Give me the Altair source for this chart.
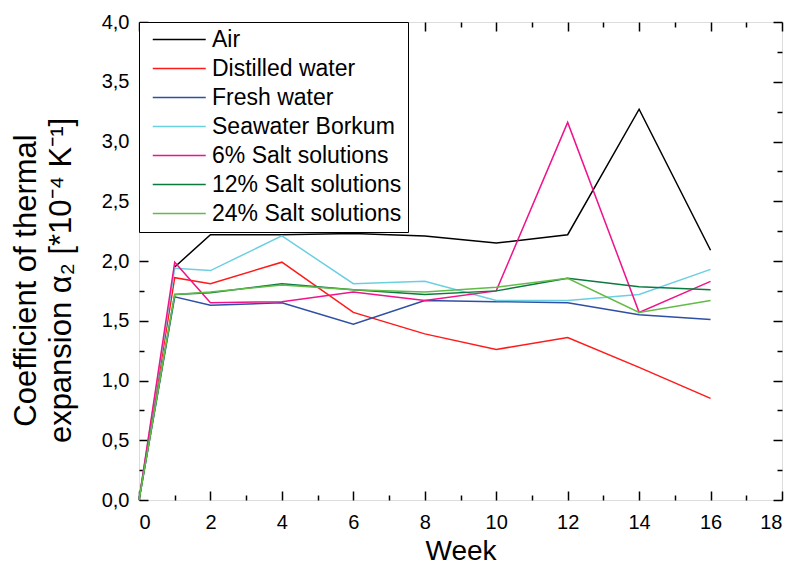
import altair as alt
import pandas as pd

# Measurement weeks
weeks = [0, 1, 2, 4, 6, 8, 10, 12, 14, 16]

# Coefficient of thermal expansion alpha_2 [*10^-4 K^-1] per storage medium
air = [None, 1.95, 2.22, 2.22, 2.23, 2.21, 2.15, 2.22, 3.27, 2.09]
distilled_water = [0.0, 1.86, 1.81, 1.99, 1.57, 1.39, 1.26, 1.36, 1.11, 0.85]
fresh_water = [0.0, 1.70, 1.63, 1.65, 1.47, 1.67, 1.66, 1.65, 1.55, 1.51]
seawater_borkum = [0.0, 1.94, 1.92, 2.21, 1.81, 1.83, 1.67, 1.67, 1.72, 1.93]
salt_6 = [0.0, 1.99, 1.65, 1.66, 1.74, 1.67, 1.75, 3.16, 1.57, 1.83]
salt_12 = [0.0, 1.72, 1.735, 1.81, 1.76, 1.72, 1.75, 1.855, 1.785, 1.76]
salt_24 = [0.0, 1.72, 1.74, 1.80, 1.76, 1.74, 1.78, 1.855, 1.57, 1.67]

series_names = [
    "Air",
    "Distilled water",
    "Fresh water",
    "Seawater Borkum",
    "6% Salt solutions",
    "12% Salt solutions",
    "24% Salt solutions",
]
series_values = [air, distilled_water, fresh_water, seawater_borkum, salt_6, salt_12, salt_24]
series_colors = ["#000000", "#ff1a1a", "#2f4fa5", "#6ccfe0", "#f0138a", "#0b7a3e", "#62bb47"]

rows = []
for name, vals in zip(series_names, series_values):
    for w, v in zip(weeks, vals):
        if v is not None:
            rows.append({"Week": w, "Value": v, "Series": name})
df = pd.DataFrame(rows)

FONT = "Liberation Sans"
x_scale = alt.Scale(domain=[0, 18], nice=False, zero=False)
y_scale = alt.Scale(domain=[0, 4], nice=False, zero=False)

major_x = list(range(0, 19, 2))
minor_x = list(range(1, 18, 2))
major_y = [i * 0.5 for i in range(9)]
minor_y = [0.25 + i * 0.5 for i in range(8)]

# long horizontal legend swatch drawn with a compact symbol size
LEGEND_SWATCH = "M-0.375,0H4.925"


def tick_axis(orient, values, size):
    # tick-only axis pulled inward so the ticks point into the plot
    return alt.Axis(
        orient=orient, values=values, labels=False, domain=False, grid=False,
        ticks=True, tickSize=size, offset=-size, tickColor="black",
        tickWidth=1.5, title=None,
    )


lines = alt.Chart(df).mark_line(strokeWidth=1.5).encode(
    x=alt.X(
        "Week:Q", scale=x_scale,
        axis=alt.Axis(
            orient="bottom", values=major_x, format="d", ticks=False,
            domain=False, grid=False, labelFont=FONT, labelFontSize=20,
            labelColor="black", labelPadding=12, title="Week",
            titleFont=FONT, titleFontSize=28, titleFontWeight="normal",
            titleColor="black", titlePadding=5,
        ),
    ),
    y=alt.Y(
        "Value:Q", scale=y_scale,
        axis=alt.Axis(
            orient="left", values=major_y, format=".1f",
            labelExpr="replace(datum.label, '.', ',')", ticks=False,
            domain=False, grid=False, labelFont=FONT, labelFontSize=20,
            labelColor="black", labelPadding=10,
            title=["Coefficient of thermal", "expansion α₂ [*10⁻⁴ K⁻¹]"],
            titleFont=FONT, titleFontSize=31, titleFontWeight="normal",
            titleColor="black", titlePadding=24, titleLineHeight=35,
            titleY=258,
        ),
    ),
    color=alt.Color(
        "Series:N",
        scale=alt.Scale(domain=series_names, range=series_colors),
        sort=series_names,
        legend=alt.Legend(
            title=None, orient="top-left", offset=0, strokeColor="black",
            fillColor="white", padding=6, symbolType=LEGEND_SWATCH,
            symbolSize=400, symbolStrokeWidth=1.5, symbolFillColor="transparent",
            labelFont=FONT, labelFontSize=23, labelColor="black",
            labelLimit=400, labelOffset=44, rowPadding=5,
        ),
    ),
)


def tick_layer(x_orient, y_orient, xv, yv, size):
    return alt.Chart(df).mark_line(opacity=0).encode(
        x=alt.X("Week:Q", scale=x_scale, axis=tick_axis(x_orient, xv, size)),
        y=alt.Y("Value:Q", scale=y_scale, axis=tick_axis(y_orient, yv, size)),
        detail="Series:N",
    )


chart = alt.layer(
    lines,
    tick_layer("bottom", "left", major_x, major_y, 9),
    tick_layer("top", "right", major_x, major_y, 9),
    tick_layer("bottom", "left", minor_x, minor_y, 5),
    tick_layer("top", "right", minor_x, minor_y, 5),
).resolve_axis(
    x="independent", y="independent"
).properties(
    width=643,
    height=478,
    autosize=alt.AutoSizeParams(type="none"),
    padding={"left": 139, "top": 22, "right": 14, "bottom": 71},
).configure_view(
    stroke="black", strokeWidth=1.5
).configure(background="white")

chart.save("out.html", embed_options={"renderer": "svg", "actions": False})
